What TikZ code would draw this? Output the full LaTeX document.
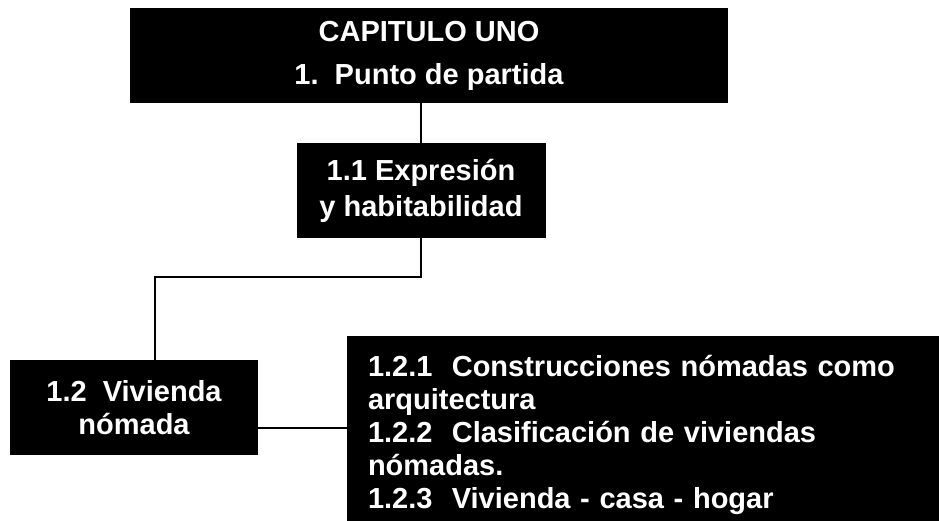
\documentclass[tikz,border=0pt]{standalone}
\usepackage{fontspec}
\setmainfont{Liberation Sans}

\begin{document}
\begin{tikzpicture}[x=1pt, y=-1pt,
  box/.style = {fill=black, text=white, inner sep=0pt, align=center,
                font=\bfseries\fontsize{29}{33}\selectfont},
  link/.style = {line width=2pt},
  ]
  \useasboundingbox (0,0) rectangle (939,521);
  \node[box, minimum width=598pt, minimum height=95pt,
        font=\bfseries\fontsize{29}{43}\selectfont] (cap) at (429,55.5)
        {CAPITULO UNO\\1.\ \ Punto de partida};
  \node[box, minimum width=249pt, minimum height=95pt,
        font=\bfseries\fontsize{29}{36}\selectfont] (exp) at (421,190.5)
        {1.1 Expresión\\y habitabilidad};
  \node[box, minimum width=248pt, minimum height=95pt] (viv) at (134,407.5)
        {1.2\ \ Vivienda\\nómada};
  \node[box, align=left, text width=550pt, inner xsep=21pt,
        minimum height=197pt] (sub) at (643,434.5)
        {1.2.1\ \ Construcciones nómadas como\\arquitectura\\
         1.2.2\ \ Clasificación de viviendas\\nómadas.\\
         1.2.3\ \ Vivienda - casa - hogar};
  % connectors
  \coordinate (elbow) at (155,277);
  \draw[link] (exp.north) -- (exp.north |- cap.south);
  \draw[link] (exp.south) |- (elbow) -- (elbow |- viv.north);
  \draw[link] (viv.east |- 0,428) -- (sub.west |- 0,428);
\end{tikzpicture}
\end{document}
